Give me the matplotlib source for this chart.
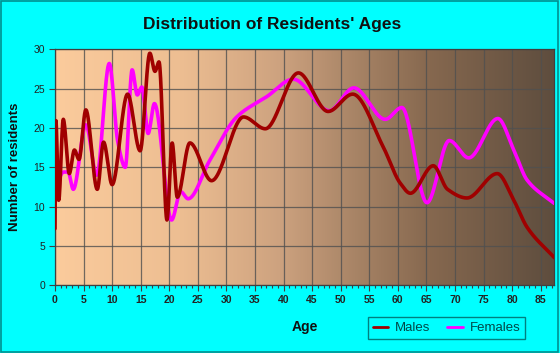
import numpy as np
import matplotlib
matplotlib.use("Agg")
import matplotlib.pyplot as plt
from matplotlib.colors import LinearSegmentedColormap
from matplotlib.patches import Rectangle

# ages / counts (turning points of each curve)
male_ages = [0, 0.15, 0.65, 1.45, 2.5, 3.4, 4.2, 5.4, 7.4, 8.5, 10.0, 12.7, 14.9,
             16.6, 17.5, 18.2, 19.6, 20.5, 21.4, 23.6, 27.4, 33.0, 36.8, 42.6,
             47.8, 52.1, 57.5, 60.4, 62.2, 66.2, 68.7, 72.1, 77.4, 80.3, 82.6, 87.4]
male_counts = [7.2, 21.0, 10.8, 21.1, 14.2, 17.2, 16.0, 22.3, 12.2, 18.2, 12.8, 24.3, 17.1,
               29.5, 27.2, 28.4, 8.3, 18.1, 11.2, 18.1, 13.3, 21.4, 19.9, 27.0,
               22.1, 24.3, 17.5, 13.0, 11.7, 15.2, 12.2, 11.1, 14.2, 10.8, 7.4, 3.5]

female_ages = [0, 0.7, 1.5, 2.3, 3.2, 5.4, 7.3, 9.5, 11.0, 12.3, 13.5, 14.4, 15.2,
               16.3, 17.4, 20.4, 22.0, 23.3, 27.1, 31.8, 37.1, 41.7, 48.0, 52.3,
               57.8, 60.7, 65.1, 69.0, 72.4, 77.5, 80.3, 82.6, 87.4]
female_counts = [11.5, 13.5, 14.4, 14.4, 12.2, 20.4, 14.0, 28.2, 18.2, 15.0, 27.4, 24.2, 25.2,
                 19.3, 23.1, 8.3, 11.9, 11.0, 15.9, 21.4, 24.0, 26.2, 22.2, 25.1,
                 21.1, 22.6, 10.5, 18.4, 16.2, 21.2, 17.2, 13.4, 10.4]

x_ticks = list(range(0, 90, 5))
y_ticks = list(range(0, 35, 5))


def pchip(x, y, xs):
    # shape preserving cubic, used only to draw the smooth line
    x = np.asarray(x, float)
    y = np.asarray(y, float)
    h = np.diff(x)
    d = np.diff(y) / h
    m = np.zeros_like(y)
    for k in range(1, len(x) - 1):
        if d[k - 1] * d[k] > 0:
            w1 = 2 * h[k] + h[k - 1]
            w2 = h[k] + 2 * h[k - 1]
            m[k] = (w1 + w2) / (w1 / d[k - 1] + w2 / d[k])
    m[0] = d[0] * 0.5
    m[-1] = d[-1]
    idx = np.clip(np.searchsorted(x, xs) - 1, 0, len(x) - 2)
    t = (xs - x[idx]) / h[idx]
    h00 = 2 * t**3 - 3 * t**2 + 1
    h10 = t**3 - 2 * t**2 + t
    h01 = -2 * t**3 + 3 * t**2
    h11 = t**3 - t**2
    return h00 * y[idx] + h10 * h[idx] * m[idx] + h01 * y[idx + 1] + h11 * h[idx] * m[idx + 1]


fig = plt.figure(figsize=(5.6, 3.53), dpi=100, facecolor="#00FFFF")
fig.patches.append(Rectangle((0.002, 0.003), 0.995, 0.994, transform=fig.transFigure,
                             fill=False, edgecolor="#009090", linewidth=1.2))
ax = fig.add_axes([0.0982, 0.1918, 0.8918, 0.6685])

xmax = 87.4
grad = LinearSegmentedColormap.from_list("bg", [
    (0.0, "#FBCB9C"), (0.25, "#EDBE92"), (0.45, "#CDA27F"),
    (0.6, "#A88466"), (0.75, "#86684F"), (1.0, "#5E4D3E")])
ax.imshow(np.linspace(0, 1, 256).reshape(1, -1), cmap=grad, aspect="auto",
          extent=[0, xmax, 0, 30], zorder=0)

xs_f = np.linspace(0, xmax, 1500)
ax.plot(xs_f, pchip(female_ages, female_counts, xs_f), color="#FF00FF", lw=2.6,
        label="Females", zorder=3, solid_capstyle="round")
ax.plot(xs_f, pchip(male_ages, male_counts, xs_f), color="#A00000", lw=2.6,
        label="Males", zorder=4, solid_capstyle="round")

ax.set_xlim(0, xmax)
ax.set_ylim(0, 30)
ax.set_xticks(x_ticks)
ax.set_xticks(np.arange(0, 88, 1), minor=True)
ax.set_yticks(y_ticks)
ax.grid(True, which="major", color="#505050", lw=0.9, alpha=0.8, zorder=1)
for s in ax.spines.values():
    s.set_color("#404040")
    s.set_linewidth(0.9)
ax.tick_params(axis="both", which="major", length=4, width=0.8, color="#404040",
               labelsize=7.5, labelcolor="#222222", pad=3)
ax.tick_params(axis="x", which="minor", length=2.5, width=0.8, color="#404040")
for lab in ax.get_xticklabels():
    lab.set_fontweight("bold")
    lab.set_family("Liberation Sans")
for lab in ax.get_yticklabels():
    lab.set_family("Liberation Sans")

fig.text(0.486, 0.93, "Distribution of Residents' Ages", ha="center", va="center",
         fontsize=12.5, fontweight="bold", family="Liberation Sans", color="#111111")
ax.set_xlabel("Age", fontsize=10, fontweight="bold", family="Liberation Sans",
              color="#111111", labelpad=11)
ax.set_ylabel("Number of residents", fontsize=9.5, fontweight="bold",
              family="Liberation Sans", color="#111111", labelpad=9)

h, l = ax.get_legend_handles_labels()
leg = fig.legend(h[::-1], l[::-1], loc="lower left", bbox_to_anchor=(0.657, 0.040),
                 borderaxespad=0, ncol=2, frameon=True, fancybox=False,
                 edgecolor="#008080", facecolor="#00FFFF", framealpha=1,
                 handlelength=1.2, columnspacing=1.3, handletextpad=0.5,
                 borderpad=0.35, prop={"family": "Liberation Sans", "size": 9.5})
leg.get_frame().set_linewidth(1.0)
for line in leg.get_lines():
    line.set_linewidth(2.0)
for t in leg.get_texts():
    t.set_color("#004848")

fig.savefig("out.png", dpi=100, facecolor=fig.get_facecolor())
